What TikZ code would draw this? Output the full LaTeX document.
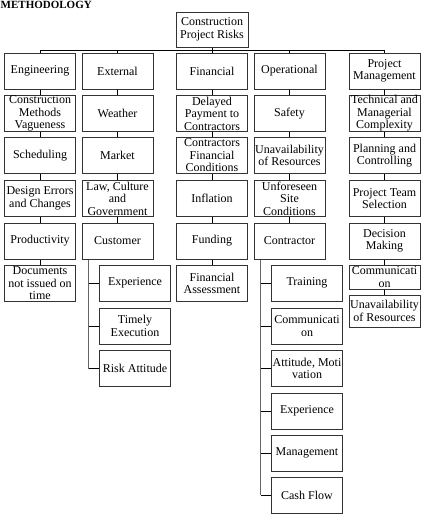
\documentclass[tikz,border=0pt]{standalone}
\usepackage{fontspec}
\setmainfont{Liberation Serif}
\begin{document}
\begin{tikzpicture}[x=1pt,y=-1pt,
 box/.style={draw=black!80, line width=1pt, rectangle, minimum width=71pt, minimum height=36pt, inner sep=0pt, align=center, font=\fontsize{12}{12.5}\selectfont, fill=white},
 link/.style={draw=black, line width=0.8pt},
 vbar/.style={draw=black!60, line width=1.6pt}]
\clip (0,0) rectangle (439,523);
\node[anchor=base west, inner sep=0pt, font=\bfseries\fontsize{11}{11}\selectfont] (title) at (0.5,8.5) {METHODOLOGY};
% root
\node[box, minimum width=72pt, minimum height=35pt] (root) at (212,29.5) {Construction\\Project Risks};
% level 1
\node[box] (eng) at (40,71) {Engineering};
\node[box] (ext) at (117.5,71) {External};
\node[box] (fin) at (212,71) {Financial};
\node[box] (op) at (289.5,71) {Operational};
\node[box] (pm) at (384.5,71) {Project\\Management};
% engineering
\node[box] (eng2) at (40,113.5) {Construction\\Methods\\Vagueness};
\node[box] (eng3) at (40,155.5) {Scheduling};
\node[box] (eng4) at (40,198.5) {Design Errors\\and Changes};
\node[box] (eng5) at (40,241) {Productivity};
\node[box] (eng6) at (40,283.5) {Documents\\not issued on\\time};
% external
\node[box] (ext2) at (117.5,113.5) {Weather};
\node[box] (ext3) at (117.5,155.5) {Market};
\node[box] (ext4) at (117.5,198.5) {Law, Culture\\and\\Government};
\node[box] (ext5) at (117.5,241) {Customer};
% financial
\node[box] (fin2) at (212,113.5) {Delayed\\Payment to\\Contractors};
\node[box] (fin3) at (212,155.5) {Contractors\\Financial\\Conditions};
\node[box] (fin4) at (212,198.5) {Inflation};
\node[box] (fin5) at (212,241) {Funding};
\node[box] (fin6) at (212,283.5) {Financial\\Assessment};
% operational
\node[box] (op2) at (289.5,113.5) {Safety};
\node[box] (op3) at (289.5,155.5) {Unavailability\\of Resources};
\node[box] (op4) at (289.5,198.5) {Unforeseen\\Site\\Conditions};
\node[box] (op5) at (289.5,241) {Contractor};
% project management
\node[box] (pm2) at (384.5,113.5) {Technical and\\Managerial\\Complexity};
\node[box] (pm3) at (384.5,155.5) {Planning and\\Controlling};
\node[box] (pm4) at (384.5,198.5) {Project Team\\Selection};
\node[box] (pm5) at (384.5,241) {Decision\\Making};
\node[box, minimum height=24pt] (pm6) at (384.5,277) {Communicati\\on};
\node[box, minimum height=32pt] (pm7) at (384.5,311) {Unavailability\\of Resources};
% customer subs
\node[box] (c1) at (135,283) {Experience};
\node[box] (c2) at (135,326) {Timely\\Execution};
\node[box] (c3) at (135,368.5) {Risk Attitude};
% contractor subs
\node[box] (k1) at (307,283) {Training};
\node[box] (k2) at (307,326) {Communicati\\on};
\node[box] (k3) at (307,368.5) {Attitude, Moti\\vation};
\node[box] (k4) at (307,411) {Experience};
\node[box] (k5) at (307,453) {Management};
\node[box] (k6) at (307,495) {Cash Flow};
% top bar
\coordinate (barL) at (40,50);
\coordinate (barR) at (384.5,50);
\draw[link] (barL) -- (barR);
\draw[link] (root.south) -- (root.south |- barL);
\foreach \n in {eng,ext,fin,op,pm} \draw[link] (\n.north) -- (\n.north |- barL);
% column chains
\draw[link] (eng) -- (eng2) (eng2) -- (eng3) (eng3) -- (eng4) (eng4) -- (eng5) (eng5) -- (eng6);
\draw[link] (ext) -- (ext2) (ext2) -- (ext3) (ext3) -- (ext4) (ext4) -- (ext5);
\draw[link] (fin) -- (fin2) (fin2) -- (fin3) (fin3) -- (fin4) (fin4) -- (fin5) (fin5) -- (fin6);
\draw[link] (op) -- (op2) (op2) -- (op3) (op3) -- (op4) (op4) -- (op5);
\draw[link] (pm) -- (pm2) (pm2) -- (pm3) (pm3) -- (pm4) (pm4) -- (pm5) (pm5) -- (pm6) (pm6) -- (pm7);
% customer subs
\coordinate (cv) at ([xshift=7pt]ext5.south west);
\draw[vbar] (cv) -- (cv |- c3.west);
\foreach \n in {c1,c2,c3} \draw[link] (cv |- \n.west) -- (\n.west);
% contractor subs
\coordinate (kv) at ([xshift=7pt]op5.south west);
\draw[vbar] (kv) -- (kv |- k6.west);
\foreach \n in {k1,k2,k3,k4,k5,k6} \draw[link] (kv |- \n.west) -- (\n.west);
\end{tikzpicture}
\end{document}
